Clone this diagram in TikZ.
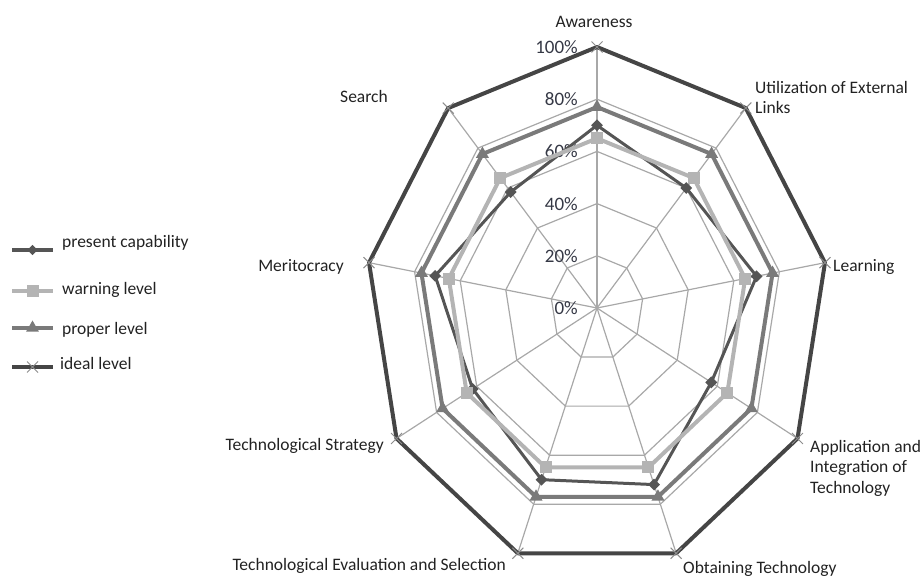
\documentclass[tikz,border=0pt]{standalone}
\usepackage{fontspec}
\setmainfont{Carlito}
\usetikzlibrary{shapes.geometric,shapes.misc,positioning}
\definecolor{gridgray}{HTML}{A8A8A8}
\definecolor{presgray}{HTML}{555555}
\definecolor{warngray}{HTML}{B4B4B4}
\definecolor{propgray}{HTML}{7A7A7A}
\definecolor{idealgray}{HTML}{454545}
\definecolor{markgray}{HTML}{8C8C8C}
\definecolor{labelblack}{HTML}{222222}
\definecolor{pctblue}{HTML}{353845}
\tikzset{
    gridline/.style={
    draw=gridgray,line width=1.2pt
    },
    presentline/.style={
    draw=presgray,line width=3pt,line join=round
    },
    warnline/.style={
    draw=warngray,line width=4pt,line join=round
    },
    properline/.style={
    draw=propgray,line width=4pt,line join=round
    },
    idealline/.style={
    draw=idealgray,line width=4pt,line join=round
    },
    presentmark/.style={
    diamond,fill=presgray,inner sep=0pt,minimum size=12pt
    },
    warnmark/.style={
    rectangle,fill=warngray,inner sep=0pt,minimum size=12pt
    },
    propermark/.style={
    regular polygon,regular polygon sides=3,fill=propgray,inner sep=0pt,minimum size=15pt
    },
    idealmark/.style={
    cross out,draw=markgray,line width=1pt,inner sep=0pt,minimum size=10pt
    },
    axislabel/.style={
    font=\fontsize{17.5}{20.5}\selectfont,text=labelblack,inner sep=0pt
    },
    pctlabel/.style={
    font=\fontsize{19}{22}\selectfont,text=pctblue,inner sep=0pt
    },
}

\begin{document}
\begin{tikzpicture}[x=1pt,y=-1pt]
   \useasboundingbox (0,0) rectangle (924,577);

   \begin{scope}[shift={(597,308)},x=231.5pt,y=261pt]
   \coordinate (c) at (0,0);
   \foreach \ang/\pv [count=\i] in {90/70,50/60,10/70,-30/57,-70/72,-110/70,-150/62,170/71,130/58}{
      \coordinate (ax\i) at (\ang:1);
      \coordinate (pc\i) at (\ang:{\pv/100});
      \coordinate (wl\i) at (\ang:0.65);
      \coordinate (pl\i) at (\ang:0.77);
   }

   % grid
   \foreach \k in {1,...,5}
      \draw[gridline] (90:{\k/5}) \foreach \a in {130,170,...,410}{ -- (\a:{\k/5})} -- cycle;
   \foreach \i in {1,...,9}
      \draw[gridline] (c) -- (ax\i);
   \foreach \k/\t in {0/0,1/20,2/40,3/60,4/80,5/100}
      \node[pctlabel,anchor=east,xshift=-19pt] (pct\t) at (0,\k/5) {\t\%};

   % series
   \draw[presentline] (pc1) \foreach \i in {2,...,9}{ -- (pc\i)} -- cycle;
   \foreach \i in {1,...,9} \node[presentmark] (pcm\i) at (pc\i) {};
   \draw[warnline] (wl1) \foreach \i in {2,...,9}{ -- (wl\i)} -- cycle;
   \foreach \i in {1,...,9} \node[warnmark] (wlm\i) at (wl\i) {};
   \draw[properline] (pl1) \foreach \i in {2,...,9}{ -- (pl\i)} -- cycle;
   \foreach \i in {1,...,9} \node[propermark] (plm\i) at (pl\i) {};
   \draw[idealline] (ax1) \foreach \i in {2,...,9}{ -- (ax\i)} -- cycle;
   \foreach \i in {1,...,9} \node[idealmark] (axm\i) at (ax\i) {};
   \end{scope}

   % axis names
   \node[axislabel,anchor=base] (awareness) at (594,28) {Awareness};
   \node[axislabel,anchor=north west,align=left] (extlinks) at (755,81) {Utilization of External\\Links};
   \node[axislabel,anchor=base west] (learning) at (833,272) {Learning};
   \node[axislabel,anchor=north west,align=left] (applic) at (810,440) {Application and\\Integration of\\Technology};
   \node[axislabel,anchor=base west] (obtain) at (683,573) {Obtaining Technology};
   \node[axislabel,anchor=base east] (evalsel) at (506,570) {Technological Evaluation and Selection};
   \node[axislabel,anchor=base east] (strategy) at (384,450) {Technological Strategy};
   \node[axislabel,anchor=base east] (merit) at (344,272) {Meritocracy};
   \node[axislabel,anchor=base east] (search) at (388,103) {Search};

   % legend
   \draw[presentline,line width=4pt] (12,250) -- node[presentmark] (lgm1) {} (53,250);
   \draw[warnline] (12,291) -- node[warnmark] (lgm2) {} (53,291);
   \draw[properline] (12,328) -- node[propermark] (lgm3) {} (53,328);
   \draw[idealline] (12,367) -- node[idealmark] (lgm4) {} (53,367);
   \node[axislabel,anchor=base west] (lg-present) at (62,248) {present capability};
   \node[axislabel,anchor=base west] (lg-warn) at (62,295) {warning level};
   \node[axislabel,anchor=base west] (lg-proper) at (62,335) {proper level};
   \node[axislabel,anchor=base west] (lg-ideal) at (60,370) {ideal level};
\end{tikzpicture}
\end{document}
